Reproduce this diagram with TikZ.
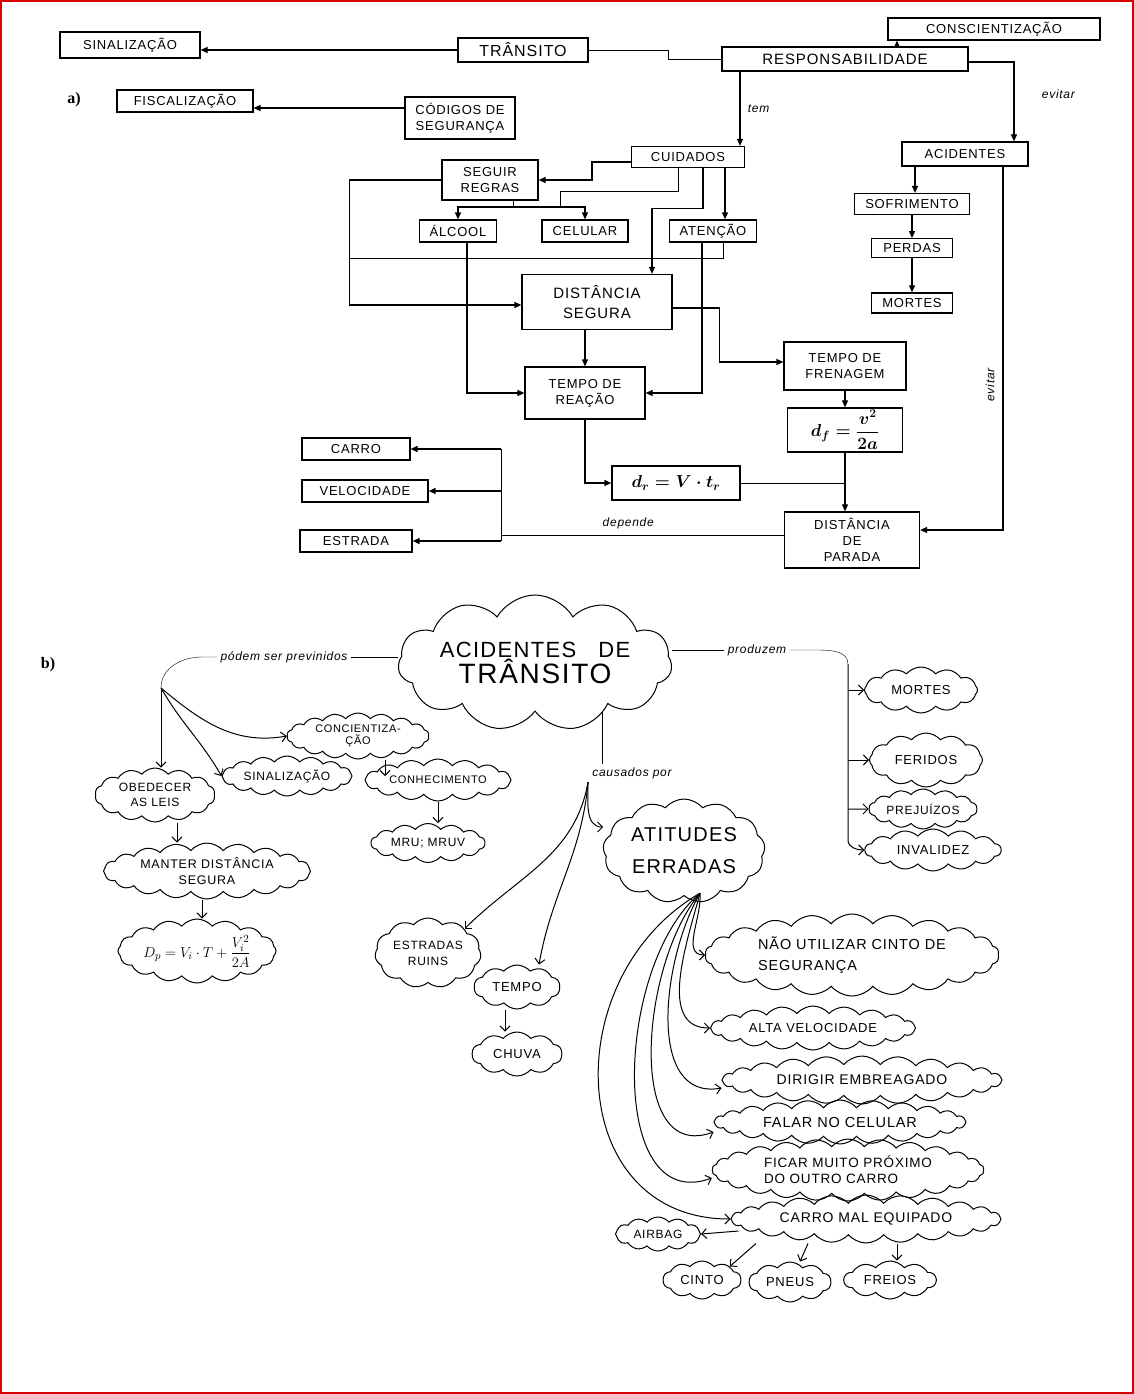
\documentclass[tikz,border=0pt]{standalone}
\usepackage{amsmath}
\usepackage{fontspec}
\setmainfont{Liberation Sans}
\newfontfamily\mao{Liberation Sans}[LetterSpace=6]
\newfontfamily\serifa{Liberation Serif}
\usetikzlibrary{arrows.meta,shapes.symbols,positioning}
\tikzset{
  caixa/.style = {draw, line width=1.2pt, inner sep=2pt, align=center, font=\mao\fontsize{13}{16}\selectfont},
  nuvem/.style = {draw, cloud, cloud puffs=14, cloud puff arc=100, cloud ignores aspect, line width=1pt, inner xsep=-2pt, inner ysep=-2pt, align=center, font=\mao\fontsize{13}{16}\selectfont},
  formula/.style = {font=\fontsize{17}{19}\selectfont\boldmath},
  seta/.style = {-{Triangle[length=7pt,width=6pt]}, line width=1.2pt},
  setab/.style = {-{Straight Barb[length=5pt,width=10pt]}, line width=1pt},
  rotulo/.style = {font=\mao\itshape\fontsize{12}{14}\selectfont}
}
\begin{document}
\begin{tikzpicture}[x=1pt, y=-1pt]
\useasboundingbox (0,0) rectangle (1134,1394);
\draw[red!85!black, line width=1.5pt] (1,1) rectangle (1133,1393);

% a)
\node[font=\serifa\bfseries\fontsize{16}{18}\selectfont] (la) at (74,100) {a)};
\node[caixa, minimum width=140pt, minimum height=26pt] (sinal) at (130,45) {SINALIZAÇÃO};
\node[caixa, minimum width=130pt, minimum height=24pt, font=\mao\fontsize{16}{18}\selectfont] (transito) at (523,50) {TRÂNSITO};
\node[caixa, minimum width=246pt, minimum height=24pt, font=\mao\fontsize{15}{17}\selectfont] (resp) at (845,59) {RESPONSABILIDADE};
\node[caixa, minimum width=212pt, minimum height=22pt] (consc) at (994,29) {CONSCIENTIZAÇÃO};
\node[caixa, minimum width=136pt, minimum height=22pt] (fisc) at (185,101) {FISCALIZAÇÃO};
\node[caixa, minimum width=110pt, minimum height=42pt] (codigos) at (460,118) {CÓDIGOS DE\\SEGURANÇA};
\node[caixa, minimum width=113pt, minimum height=21pt] (cuidados) at (688,157) {CUIDADOS};
\node[caixa, minimum width=126pt, minimum height=24pt] (acid) at (965,154) {ACIDENTES};
\node[caixa, minimum width=115pt, minimum height=21pt] (sofr) at (912,204) {SOFRIMENTO};
\node[caixa, minimum width=81pt, minimum height=19pt] (perdas) [below=23pt of sofr] {PERDAS};
\node[caixa, minimum width=81pt, minimum height=20pt] (mortes) [below=34pt of perdas] {MORTES};
\node[caixa, minimum width=96pt, minimum height=40pt] (seguir) at (490,180) {SEGUIR\\REGRAS};
\node[caixa, minimum width=77pt, minimum height=22pt] (alcool) at (458,231) {ÁLCOOL};
\node[caixa, minimum width=86pt, minimum height=22pt] (celular) at (585,231) {CELULAR};
\node[caixa, minimum width=87pt, minimum height=22pt] (atencao) at (713,231) {ATENÇÃO};
\node[caixa, minimum width=150pt, minimum height=55pt, font=\mao\fontsize{15}{20}\selectfont] (distseg) at (597,302) {DISTÂNCIA\\SEGURA};
\node[caixa, minimum width=120pt, minimum height=52pt] (treac) at (585,393) {TEMPO DE\\REAÇÃO};
\node[caixa, minimum width=122pt, minimum height=48pt] (tfren) at (845,366) {TEMPO DE\\FRENAGEM};
\node[caixa, formula, minimum width=115pt, minimum height=44pt] (dfren) at (845,430) {$d_f = \dfrac{v^2}{2a}$};
\node[caixa, formula, minimum width=128pt, minimum height=34pt] (dreac) at (676,483) {$d_r = V\cdot t_r$};
\node[caixa, minimum width=135pt, minimum height=56pt] (dparada) at (852,540) {DISTÂNCIA\\DE\\PARADA};
\node[caixa, minimum width=108pt, minimum height=22pt] (carro) at (356,449) {CARRO};
\node[caixa, minimum width=126pt, minimum height=22pt] (veloc) at (365,491) {VELOCIDADE};
\node[caixa, minimum width=112pt, minimum height=22pt] (estrada) at (356,541) {ESTRADA};

\draw[seta] (transito.west) -- (transito.west -| sinal.east);
\draw (transito.east) -- ++(80,0) |- (resp.west);
\draw[seta] ([xshift=52pt]resp.north) -- ([xshift=52pt]resp.north |- consc.south);
\draw[seta] ([yshift=10pt]codigos.west) -- ([yshift=10pt]codigos.west -| fisc.east);
\draw[seta] ([xshift=-105pt]resp.south) -- ([xshift=-105pt]resp.south |- cuidados.north)
  node[rotulo, midway, right=4pt] (tem) {tem};
\draw[seta] ([yshift=-3pt]resp.east) -| ([xshift=49pt]acid.north)
  node[rotulo, pos=0.7, right=24pt] (evita1) {evitar};
\draw[seta] ([xshift=3pt]sofr.north |- acid.south) -- ([xshift=3pt]sofr.north);
\draw[seta] (sofr.south -| perdas) -- (perdas.north);
\draw[seta] (perdas) -- (mortes);
\draw[seta] ([xshift=38pt]acid.south) |- ([yshift=10pt]dparada.east);
\node[rotulo, rotate=90] (evita2) at (990,385) {evitar};

\draw[seta] ([yshift=-5pt]cuidados.west) -- ++(-39,0) |- (seguir.east);
\coordinate (barra) at (560,207);
\draw ([xshift=-10pt]cuidados.south) -- ++(0,23) -| (barra);
\draw ([xshift=23pt]seguir.south) -- ([xshift=23pt]seguir.south |- barra);
\draw[seta] (barra) -| (alcool.north);
\draw[seta] (barra) -| (celular.north);
\draw[seta] ([xshift=37pt]cuidados.south) -- ([xshift=37pt]cuidados.south |- atencao.north);
\draw[seta] ([xshift=15pt]cuidados.south) -- ++(0,40) -| ([xshift=55pt]distseg.north);
\draw[seta] (seguir.west) -- ++(-92,0) |- ([yshift=-3pt]distseg.west);
\draw ([xshift=10pt]atencao.south) -- ++(0,16) -- ++(-373,0);
\draw[seta] ([xshift=9pt]alcool.south) |- (treac.west);
\draw[seta] ([xshift=-11pt]atencao.south) |- (treac.east);
\draw[seta] (treac.north |- distseg.south) -- (treac.north);
\draw[seta] ([yshift=-6pt]distseg.east) -- ++(47,0) |- ([yshift=4pt]tfren.west);
\draw[seta] (tfren) -- (dfren);
\draw[seta] (dfren.south) -- (dfren.south |- dparada.north);
\draw[seta] (treac.south) |- (dreac.west);
\draw (dreac.east) -- (dreac.east -| dfren.south);
\draw ([yshift=5pt]dparada.west) -- ++(-283,0) coordinate (dep)
  node[rotulo, pos=0.55, above=2pt] (depende) {depende};
\draw (dep |- carro) -- (dep |- estrada);
\draw[seta] (dep |- carro) -- (carro.east);
\draw[seta] (dep |- veloc) -- (veloc.east);
\draw[seta] (dep |- estrada) -- (estrada.east);

% b)
\node[font=\serifa\bfseries\fontsize{16}{18}\selectfont] (lb) at (48,665) {b)};
\node[draw, cloud, cloud puffs=11, cloud puff arc=120, aspect=2.8, line width=1pt, inner sep=0pt, align=center, font=\mao] (acidtr) at (535,663)
  {{\fontsize{22}{26}\selectfont ACIDENTES\quad DE}\\{\fontsize{28}{32}\selectfont TRÂNSITO}};
\node[nuvem, minimum width=120pt, minimum height=54pt, font=\mao\fontsize{12}{15}\selectfont] (obedecer) at (155,795) {OBEDECER\\AS LEIS};
\node[nuvem, cloud puffs=16, minimum width=130pt, minimum height=40pt, font=\mao\fontsize{12}{15}\selectfont] (sinaliz) at (287,776) {SINALIZAÇÃO};
\node[nuvem, cloud puffs=18, minimum width=142pt, minimum height=46pt, font=\mao\fontsize{11}{12}\selectfont] (concient) at (358,736) {CONCIENTIZA-\\ÇÃO};
\node[nuvem, cloud puffs=16, minimum width=146pt, minimum height=42pt, inner xsep=-3pt, font=\mao\fontsize{11}{14}\selectfont] (conhec) at (438,780) {CONHECIMENTO};
\node[nuvem, minimum width=114pt, minimum height=39pt, font=\mao\fontsize{12}{15}\selectfont] (mru) at (428,843) {MRU; MRUV};
\node[nuvem, cloud puffs=20, minimum width=207pt, minimum height=56pt, font=\mao\fontsize{12.5}{16}\selectfont] (manter) at (207,871) {MANTER DISTÂNCIA\\SEGURA};
\node[nuvem, cloud puffs=16, minimum width=158pt, minimum height=64pt, font=\fontsize{15}{17}\selectfont] (dp) at (197,951) {$D_p = V_i\cdot T + \dfrac{V_i^2}{2A}$};
\node[nuvem, cloud puffs=12, minimum width=113pt, minimum height=46pt] (mortes2) at (921,690) {MORTES};
\node[nuvem, cloud puffs=12, minimum width=113pt, minimum height=54pt] (feridos) at (926,760) {FERIDOS};
\node[nuvem, cloud puffs=14, minimum width=108pt, minimum height=40pt, font=\mao\fontsize{12}{15}\selectfont] (prejuizos) at (923,809) {PREJUÍZOS};
\node[nuvem, cloud puffs=14, minimum width=136pt, minimum height=42pt] (invalidez) at (933,850) {INVALIDEZ};
\node[nuvem, cloud puffs=13, minimum width=162pt, minimum height=104pt, inner xsep=-4pt, font=\mao\fontsize{20}{32}\selectfont] (atitudes) at (684,851) {ATITUDES\\ERRADAS};
\node[nuvem, cloud puffs=11, minimum width=106pt, minimum height=70pt, font=\mao\fontsize{12}{16}\selectfont] (estradas) at (428,953) {ESTRADAS\\RUINS};
\node[nuvem, cloud puffs=10, minimum width=86pt, minimum height=44pt] (tempo) at (517,987) {TEMPO};
\node[nuvem, cloud puffs=10, minimum width=90pt, minimum height=44pt] (chuva) [below=22pt of tempo] {CHUVA};
\node[nuvem, cloud puffs=22, minimum width=294pt, minimum height=82pt, align=left, font=\mao\fontsize{14.5}{21}\selectfont] (naoutil) at (852,955) {NÃO UTILIZAR CINTO DE\\SEGURANÇA};
\node[nuvem, cloud puffs=20, minimum width=205pt, minimum height=44pt] (alta) at (813,1028) {ALTA VELOCIDADE};
\node[nuvem, cloud puffs=24, minimum width=280pt, minimum height=48pt, font=\mao\fontsize{14}{17}\selectfont] (dirigir) at (862,1080) {DIRIGIR EMBREAGADO};
\node[nuvem, cloud puffs=24, minimum width=252pt, minimum height=44pt, font=\mao\fontsize{14.5}{17}\selectfont] (falar) at (840,1122) {FALAR NO CELULAR};
\node[nuvem, cloud puffs=26, minimum width=272pt, minimum height=62pt, align=left, font=\mao\fontsize{13.5}{16}\selectfont] (ficar) at (848,1170) {FICAR MUITO PRÓXIMO\\DO OUTRO CARRO};
\node[nuvem, cloud puffs=24, minimum width=270pt, minimum height=48pt, font=\mao\fontsize{14}{17}\selectfont] (carromal) at (866,1219) {CARRO MAL EQUIPADO};
\node[nuvem, cloud puffs=12, minimum width=85pt, minimum height=34pt, font=\mao\fontsize{12}{15}\selectfont] (airbag) at (658,1234) {AIRBAG};
\node[nuvem, cloud puffs=10, minimum width=78pt, minimum height=38pt] (cinto) at (702,1280) {CINTO};
\node[nuvem, cloud puffs=10, minimum width=82pt, minimum height=40pt] (pneus) at (790,1282) {PNEUS};
\node[nuvem, cloud puffs=10, minimum width=92pt, minimum height=38pt] (freios) at (890,1280) {FREIOS};

\node[rotulo] (prev) at (284,657) {pódem ser previnidos};
\node[rotulo] (prod) at (757,650) {produzem};
\node[rotulo] (causa) at (632,773) {causados por};

\draw (prev.east) -- (prev.east -| acidtr.west);
\coordinate (ramo) at (161,688);
\draw (prev.west) -- ++(-15,0) to[out=180,in=90] (ramo);
\draw[setab] (ramo) -- (ramo |- obedecer.north);
\draw[setab] (ramo) to[out=-60,in=120] (sinaliz.west);
\draw[setab] (ramo) to[out=-40,in=190] (concient.west);
\draw[setab] ([xshift=27pt]concient.south) -- ([xshift=-53pt,yshift=4pt]conhec.center);
\draw[setab] (conhec.south) -- (conhec.south |- mru.north);
\draw[setab] ([xshift=22pt]obedecer.south) -- ([xshift=22pt]obedecer.south |- manter.north);
\draw[setab] ([xshift=5pt]dp.north |- manter.south) -- ([xshift=5pt]dp.north);

\draw (prod.west -| acidtr.east) -- (prod.west);
\coordinate (tronco) at (848,664);
\draw (prod.east) -- ++(28,0) to[out=0,in=90] (tronco);
\draw[setab] (tronco) -- ([yshift=10pt]tronco |- invalidez) to[out=-90,in=180] (invalidez.west);
\draw[setab] (tronco |- mortes2) -- (mortes2.west);
\draw[setab] (tronco |- feridos) -- (feridos.west);
\draw[setab] (tronco |- prejuizos) -- (prejuizos.west);

\draw ([xshift=67pt]acidtr.south) -- ([xshift=67pt]acidtr.south |- causa.north);
\coordinate (ramo2) at ([xshift=-44pt]causa.south);
\draw[setab] (ramo2) to[out=-90,in=180] ([yshift=24pt]atitudes.west);
\draw[setab] (ramo2) to[out=-100,in=45] (estradas.north east);
\draw[setab] (ramo2) to[out=-95,in=80] ([xshift=22pt]tempo.north);
\draw[setab] ([xshift=-12pt]tempo.south) -- ([xshift=-12pt]tempo.south |- chuva.north);

\coordinate (leque) at ([xshift=16pt,yshift=3pt]atitudes.south);
\draw[setab] (leque) to[out=-85,in=180] (naoutil.west);
\draw[setab] (leque) to[out=-105,in=180] (alta.west);
\draw[setab] (leque) to[out=-120,in=190] ([yshift=-8pt]dirigir.west);
\draw[setab] (leque) to[out=-130,in=200] ([yshift=-10pt]falar.west);
\draw[setab] (leque) to[out=-140,in=200] ([yshift=-8pt]ficar.west);
\draw[setab] (leque) to[out=-150,in=180,looseness=1.3] (carromal.west);
\draw[setab] ([xshift=8pt,yshift=-12pt]carromal.west) -- (airbag.east);
\draw[setab] ([xshift=-110pt]carromal.south) -- (cinto.north east);
\draw[setab] ([xshift=-58pt]carromal.south) -- ([xshift=10pt]pneus.north);
\draw[setab] ([xshift=31pt]carromal.south) -- ([xshift=7pt]freios.north);
\end{tikzpicture}
\end{document}
